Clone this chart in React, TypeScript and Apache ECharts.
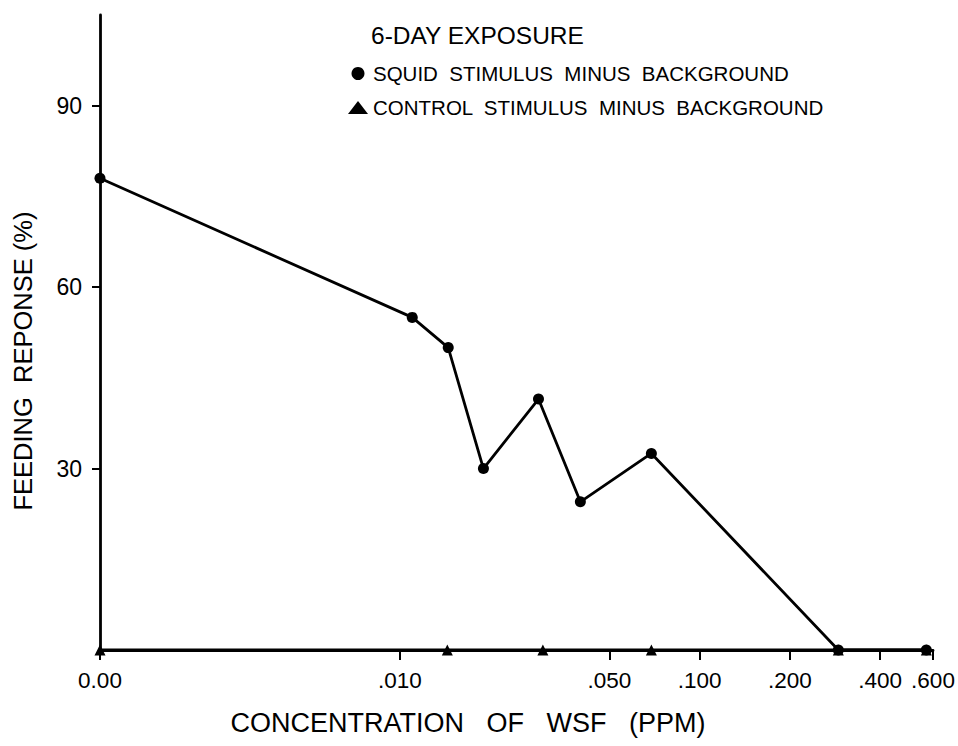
import React, { useEffect, useRef } from 'react';
import * as echarts from 'echarts';

const FONT = '"Liberation Sans", Arial, sans-serif';

const X_MIN = 0.001;
const X_MAX = 0.6;
const xTickValues = [0.001, 0.01, 0.05, 0.1, 0.2, 0.4, 0.6];
const xTickLabels = ['0.00', '.010', '.050', '.100', '.200', '.400', '.600'];
const yTickValues = [30, 60, 90];

const squidName = 'SQUID  STIMULUS  MINUS  BACKGROUND';
const controlName = 'CONTROL  STIMULUS  MINUS  BACKGROUND';

const squidConc = [0, 0.011, 0.0145, 0.019, 0.029, 0.04, 0.069, 0.29, 0.57];
const squidResp = [78, 55, 50, 30, 41.5, 24.5, 32.5, 0, 0];
const controlConc = [0, 0.0144, 0.03, 0.069, 0.29, 0.57];
const controlResp = [0, 0, 0, 0, 0, 0];

const toX = (c: number) => (c === 0 ? X_MIN : c);

function fmtX(v: number) {
  for (let i = 0; i < xTickValues.length; i++) {
    if (Math.abs(v - xTickValues[i]) / xTickValues[i] < 1e-6) return xTickLabels[i];
  }
  return '';
}

export default function App() {
  const ref = useRef<HTMLDivElement>(null);
  useEffect(() => {
    if (!ref.current) return;
    const chart = echarts.init(ref.current, undefined, { renderer: 'svg' });
    chart.setOption({
      animation: false,
      backgroundColor: '#fff',
      title: {
        text: '6-DAY EXPOSURE',
        left: 371,
        top: 23,
        padding: 0,
        textStyle: { fontSize: 24.5, fontWeight: 'normal', color: '#000', fontFamily: FONT },
      },
      legend: {
        orient: 'vertical',
        left: 348,
        top: 63,
        padding: 0,
        itemGap: 13,
        itemWidth: 20,
        itemHeight: 13,
        selectedMode: false,
        textStyle: { fontSize: 20.5, color: '#000', fontFamily: FONT },
        data: [
          { name: squidName, icon: 'circle' },
          { name: controlName, icon: 'triangle' },
        ],
      },
      grid: { left: 100, right: 25, top: 15, bottom: 96 },
      xAxis: {
        type: 'log',
        logBase: 10,
        min: X_MIN,
        max: X_MAX,
        axisLine: { show: true, onZero: false, lineStyle: { color: '#000', width: 2.8 } },
        axisTick: { show: true, length: 10, customValues: xTickValues, lineStyle: { color: '#000', width: 2 } },
        axisLabel: {
          customValues: xTickValues,
          formatter: (v: number) => fmtX(v),
          fontSize: 22.5,
          color: '#000',
          margin: 19,
          fontFamily: FONT,
        },
        minorTick: { show: false },
        splitLine: { show: false },
      },
      yAxis: {
        type: 'value',
        min: 0,
        max: 105,
        interval: 30,
        axisLine: { show: true, onZero: false, lineStyle: { color: '#000', width: 2.8 } },
        axisTick: { show: true, length: 8, customValues: yTickValues, lineStyle: { color: '#000', width: 2 } },
        axisLabel: { customValues: yTickValues, fontSize: 23, color: '#000', margin: 18, fontFamily: FONT },
        splitLine: { show: false },
      },
      graphic: [
        {
          type: 'text',
          x: 468,
          y: 723,
          style: {
            text: 'CONCENTRATION   OF   WSF   (PPM)',
            fontSize: 27,
            fill: '#000',
            align: 'center',
            verticalAlign: 'middle',
            fontFamily: FONT,
          },
        },
        {
          type: 'text',
          x: 23,
          y: 361,
          rotation: Math.PI / 2,
          style: {
            text: 'FEEDING  REPONSE (%)',
            fontSize: 25.5,
            fill: '#000',
            align: 'center',
            verticalAlign: 'middle',
            fontFamily: FONT,
          },
        },
      ],
      series: [
        {
          type: 'line',
          name: squidName,
          data: squidConc.map((c, i) => [toX(c), squidResp[i]]),
          symbol: 'circle',
          symbolSize: 11,
          clip: false,
          lineStyle: { color: '#000', width: 2.8 },
          itemStyle: { color: '#000' },
        },
        {
          type: 'line',
          name: controlName,
          data: controlConc.map((c, i) => [toX(c), controlResp[i]]),
          symbol: 'triangle',
          symbolSize: 11,
          clip: false,
          lineStyle: { color: '#000', width: 2.8 },
          itemStyle: { color: '#000' },
        },
      ],
    });
    return () => chart.dispose();
  }, []);
  return (
    <div
      ref={ref}
      style={{ position: 'fixed', left: 0, top: 0, width: 958, height: 746, background: '#fff' }}
    />
  );
}
